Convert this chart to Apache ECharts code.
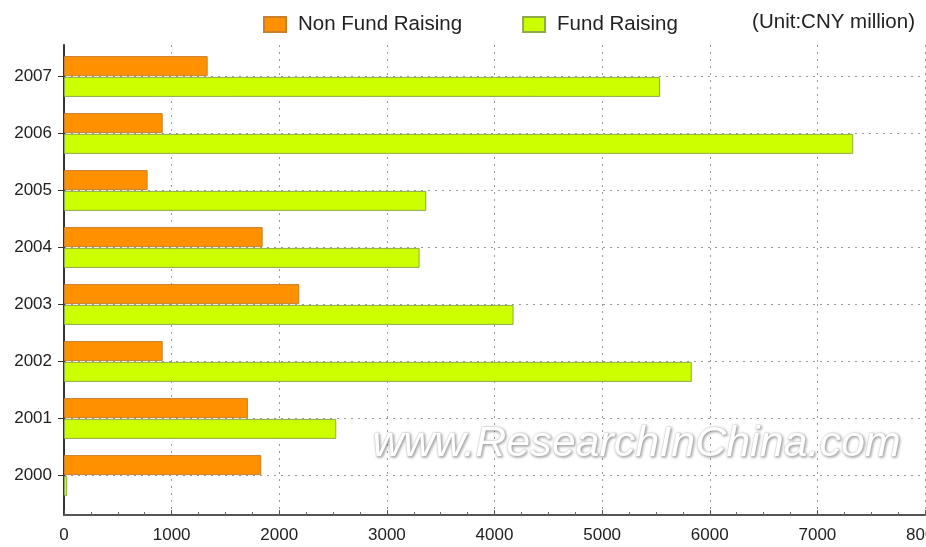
<!DOCTYPE html>
<html>
<head>
<meta charset="utf-8">
<script src="https://cdn.jsdelivr.net/npm/echarts@6/dist/echarts.min.js"></script>
<style>
  html, body { margin: 0; padding: 0; background: #fff; }
  #chart { width: 926px; height: 547px; }
</style>
</head>
<body>
<div id="chart"></div>
<script>
  // years bottom to top, as on the category axis
  const years = ['2000', '2001', '2002', '2003', '2004', '2005', '2006', '2007']
  const nonFundRaising = [1833, 1709, 917, 2186, 1846, 777, 917, 1335]
  const fundRaising = [30, 2530, 5833, 4177, 3304, 3366, 7333, 5539]
  const xTicks = [0, 8000, 1000]

  const gridLine = { color: '#9a9a9a', width: 1, type: [2, 5] }
  const labelFont = { fontFamily: 'Liberation Sans', fontSize: 17, color: '#222' }

  const chart = echarts.init(document.getElementById('chart'))
  const option = {
    animation: false,
    title: {
      text: '(Unit:CNY million)',
      right: 6,
      top: 7,
      textStyle: { fontFamily: 'Liberation Sans', fontSize: 20.5, fontWeight: 'normal', color: '#222' }
    },
    legend: {
      left: 258,
      top: 9,
      icon: 'rect',
      itemWidth: 22,
      itemHeight: 15,
      itemGap: 60,
      textStyle: { fontFamily: 'Liberation Sans', fontSize: 20.5, color: '#222', padding: [0, 0, 0, 7] },
      data: ['Non Fund Raising', 'Fund Raising']
    },
    grid: [
      // bars
      { left: 64, right: 1, top: 48, bottom: 43, outerBoundsMode: 'none' },
      // frame with the axis lines
      { left: 64, right: 1, top: 45, bottom: 32, outerBoundsMode: 'none' }
    ],
    xAxis: [
      { gridIndex: 0, type: 'value', min: xTicks[0], max: xTicks[1], interval: xTicks[2], show: false },
      {
        gridIndex: 1,
        type: 'value',
        min: xTicks[0],
        max: xTicks[1],
        interval: xTicks[2],
        axisLine: { show: true, lineStyle: { color: '#555', width: 2 } },
        axisTick: { show: true, inside: true, length: 5, lineStyle: { color: '#555' } },
        minorTick: { show: true, splitNumber: 4, length: 3, lineStyle: { color: '#666' } },
        axisLabel: Object.assign({ margin: 12, formatter: v => String(v) }, labelFont),
        splitLine: { show: true, lineStyle: gridLine }
      }
    ],
    yAxis: [
      {
        gridIndex: 0,
        type: 'category',
        data: years,
        axisLine: { show: false },
        axisTick: { show: true, alignWithLabel: true, length: 6, lineStyle: { color: '#333' } },
        axisLabel: Object.assign({ margin: 12 }, labelFont),
        splitLine: { show: true, alignWithLabel: true, lineStyle: gridLine }
      },
      {
        gridIndex: 1,
        type: 'value',
        min: 0,
        max: 1,
        axisLine: { show: true, lineStyle: { color: '#333', width: 2 } },
        axisTick: { show: false },
        axisLabel: { show: false },
        splitLine: { show: false }
      }
    ],
    series: [
      {
        name: 'Non Fund Raising',
        type: 'bar',
        xAxisIndex: 0,
        yAxisIndex: 0,
        data: nonFundRaising,
        barWidth: 20,
        barGap: '4%',
        itemStyle: { color: '#ff9000', borderColor: '#c8802a', borderWidth: 1 }
      },
      {
        name: 'Fund Raising',
        type: 'bar',
        xAxisIndex: 0,
        yAxisIndex: 0,
        data: fundRaising,
        barWidth: 20,
        itemStyle: { color: '#ccff00', borderColor: '#8faa4a', borderWidth: 1 }
      }
    ],
    graphic: [
      {
        type: 'text',
        left: 372,
        top: 422,
        z: 100,
        style: {
          text: 'www.ResearchInChina.com',
          font: 'italic 43px "Liberation Sans"',
          fill: '#ffffff',
          stroke: '#e2e2e2',
          lineWidth: 1,
          textShadowColor: 'rgba(0,0,0,0.35)',
          textShadowBlur: 3,
          textShadowOffsetX: 1,
          textShadowOffsetY: 1
        }
      }
    ]
  }
  chart.setOption(option)
</script>
</body>
</html>
